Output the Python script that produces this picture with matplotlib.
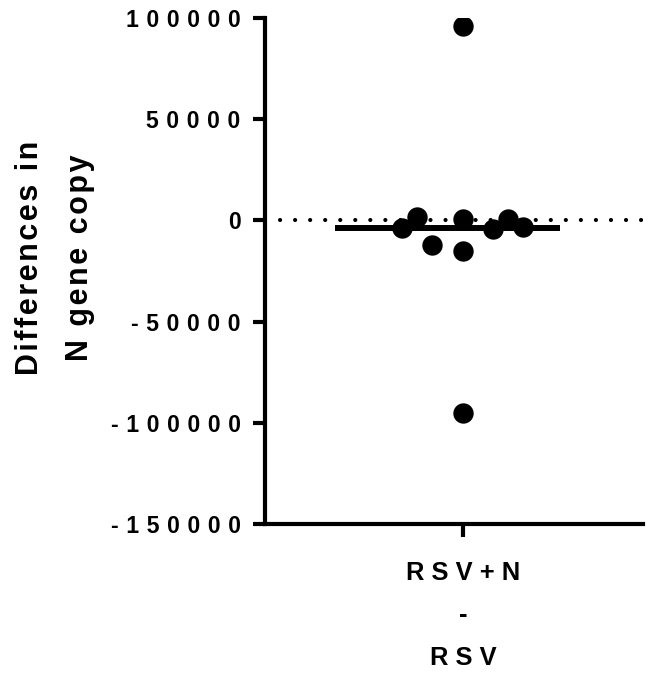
import matplotlib
matplotlib.use("Agg")
import matplotlib.pyplot as plt
import matplotlib.transforms as mtransforms
import numpy as np

# Paired differences (RSV+N minus RSV), one per sample
differences = [-3800, 1900, -12100, 700, -14900, -4300, 600, -3500, 96000, -95000]
# horizontal scatter offsets within the column (category units)
jitter = [-0.154, -0.116, -0.078, 0.0, 0.0, 0.076, 0.114, 0.152, 0.0, 0.0]
category_label = "RSV+N\n-\nRSV"
y_ticks = [-150000, -100000, -50000, 0, 50000, 100000]


def spaced(s, gap):
    return gap.join(list(s))


plt.rcParams["font.family"] = ["Liberation Sans", "DejaVu Sans"]
plt.rcParams["font.weight"] = "bold"

fig = plt.figure(figsize=(6.53, 6.75), dpi=100)
ax = fig.add_axes([265 / 653, 1 - 524 / 675, (643 - 265) / 653, (524 - 18) / 675])

ax.axhline(0, color="black", lw=3.0, linestyle=(0, (0.01, 3.6)),
           dash_capstyle="round", zorder=1)

xs = np.array(jitter)
ax.scatter(xs, differences, s=215, color="black", zorder=3, linewidths=0)

med = np.median(differences)
ax.plot([-0.323, 0.245], [med, med], color="black", lw=4.3,
        solid_capstyle="butt", zorder=4)

ax.set_xlim(-0.5, 0.4545)
ax.set_ylim(-150000, 100000)
ax.set_yticks(y_ticks)
ax.set_yticklabels([spaced(str(v), "\u2004") for v in y_ticks],
                   fontsize=16.6, fontweight="bold")
ax.set_xticks([0])
ax.set_xticklabels(["\n".join(spaced(l, " ") for l in category_label.split("\n"))],
                   fontsize=18.4, fontweight="bold", linespacing=1.97)
shift = mtransforms.ScaledTranslation(-4 / 100, 0, fig.dpi_scale_trans)
for lab in ax.get_xticklabels():
    lab.set_transform(lab.get_transform() + shift)

for side in ("top", "right"):
    ax.spines[side].set_visible(False)
for side in ("left", "bottom"):
    ax.spines[side].set_linewidth(3.0)
ax.tick_params(axis="both", length=9, width=3.0)
ax.tick_params(axis="y", pad=8.6)
ax.tick_params(axis="x", pad=17.5)

ax.set_ylabel(spaced("Differences in", "\u200a") + "\n" + spaced("N gene copy", "\u200a"),
              fontsize=22, fontweight="bold", linespacing=1.85)
ax.yaxis.set_label_coords((95 - 265) / 378, (524 - 258) / 506)

fig.savefig("out.png", dpi=100)
